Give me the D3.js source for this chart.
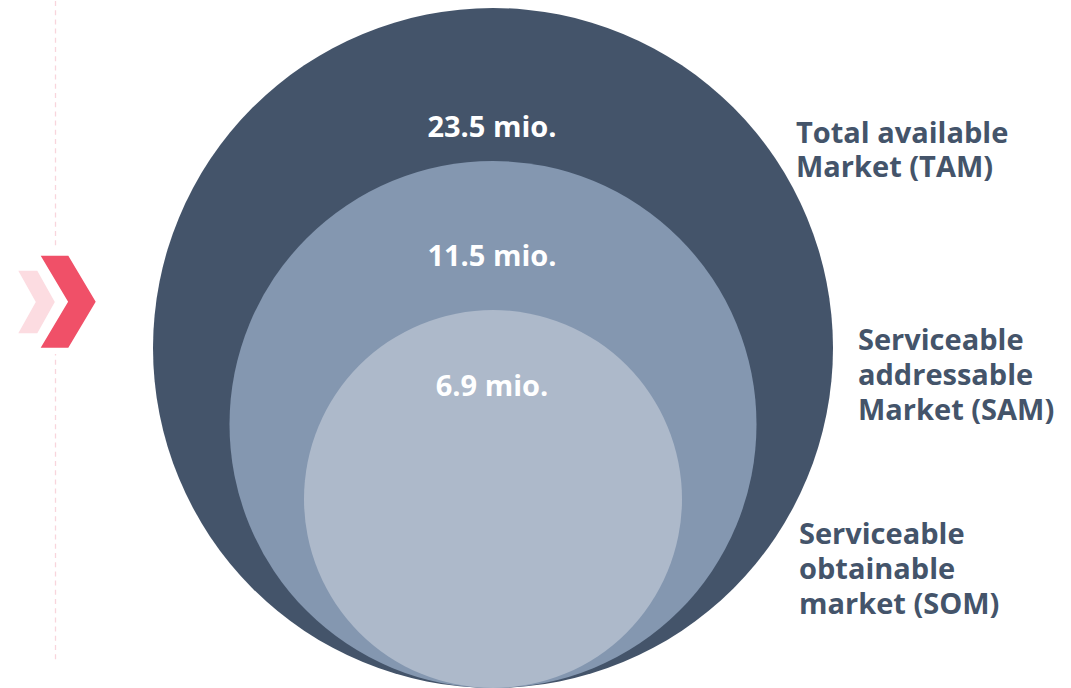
<!DOCTYPE html>
<html>
<head>
<meta charset="utf-8">
<script src="https://cdn.jsdelivr.net/npm/d3@7"></script>
<style>
  html, body { margin: 0; padding: 0; background: #ffffff; }
  svg { display: block; }
</style>
</head>
<body>
<svg id="chart" width="1071" height="688"></svg>
<script>
// ---- data ----
const markets = ["TAM", "SAM", "SOM"];
const values = [23.5, 11.5, 6.9];
const valueLabels = ["23.5 mio.", "11.5 mio.", "6.9 mio."];
const nameLines = [
  ["Total available", "Market (TAM)"],
  ["Serviceable", "addressable", "Market (SAM)"],
  ["Serviceable", "obtainable", "market (SOM)"]
];

// ---- layout / style ----
const W = 1071, H = 688;
const cx = 493, baseY = 688;
const colors = ["#44546a", "#8497b0", "#adb9ca"];
const textColor = "#44546a";
const font = "'Open Sans', 'Noto Sans', sans-serif";
const labelFactor = [0.65, 0.64, 0.60];
const nameX = [796, 858, 799];
const nameY = [143, 350, 544];
const lineH = [34, 35, 35];

const svg = d3.select("#chart");

// radius scale (piecewise)
const rScale = d3.scaleLinear().domain([6.9, 11.5, 23.5]).range([189, 263.5, 340]);

// dashed guide line
svg.append("line")
  .attr("x1", 55.5).attr("x2", 55.5).attr("y1", 1).attr("y2", 662)
  .attr("stroke", "#f8d5dc").attr("stroke-width", 1.3)
  .attr("stroke-dasharray", "5 4.2");

// chevrons (white backdrop hides the dashed line)
svg.append("rect").attr("x", 45).attr("y", 248).attr("width", 20).attr("height", 106).attr("fill", "#fff");
const chev = (x0, w, y0, y1, d) => {
  const ym = (y0 + y1) / 2;
  return `M${x0},${y0} L${x0 + w},${y0} L${x0 + w + d},${ym} L${x0 + w},${y1} L${x0},${y1} L${x0 + d},${ym} Z`;
};
svg.append("path").attr("d", chev(18.3, 19, 270.7, 333.3, 17.5)).attr("fill", "#fcdce1");
svg.append("path").attr("d", chev(40.7, 27.6, 255.7, 347.7, 27.4)).attr("fill", "#f05068");

// circles
const g = svg.append("g");
g.selectAll("circle")
  .data(values)
  .join("circle")
  .attr("cx", cx)
  .attr("cy", d => baseY - rScale(d))
  .attr("r", d => rScale(d))
  .attr("fill", (d, i) => colors[i]);

// value labels
g.selectAll("text.val")
  .data(values)
  .join("text")
  .attr("class", "val")
  .attr("x", cx - 1)
  .attr("y", (d, i) => baseY - rScale(d) - rScale(d) * labelFactor[i])
  .attr("dy", "0.35em")
  .attr("text-anchor", "middle")
  .attr("fill", "#ffffff")
  .attr("font-family", font)
  .attr("font-weight", 700)
  .attr("font-size", 29)
  .text((d, i) => valueLabels[i]);

// name labels
nameLines.forEach((lines, i) => {
  const t = svg.append("text")
    .attr("x", nameX[i]).attr("y", nameY[i])
    .attr("fill", textColor)
    .attr("font-family", font)
    .attr("font-weight", 700)
    .attr("font-size", 29);
  lines.forEach((ln, j) => {
    t.append("tspan").attr("x", nameX[i]).attr("y", nameY[i] + j * lineH[i]).text(ln);
  });
});
</script>
</body>
</html>
